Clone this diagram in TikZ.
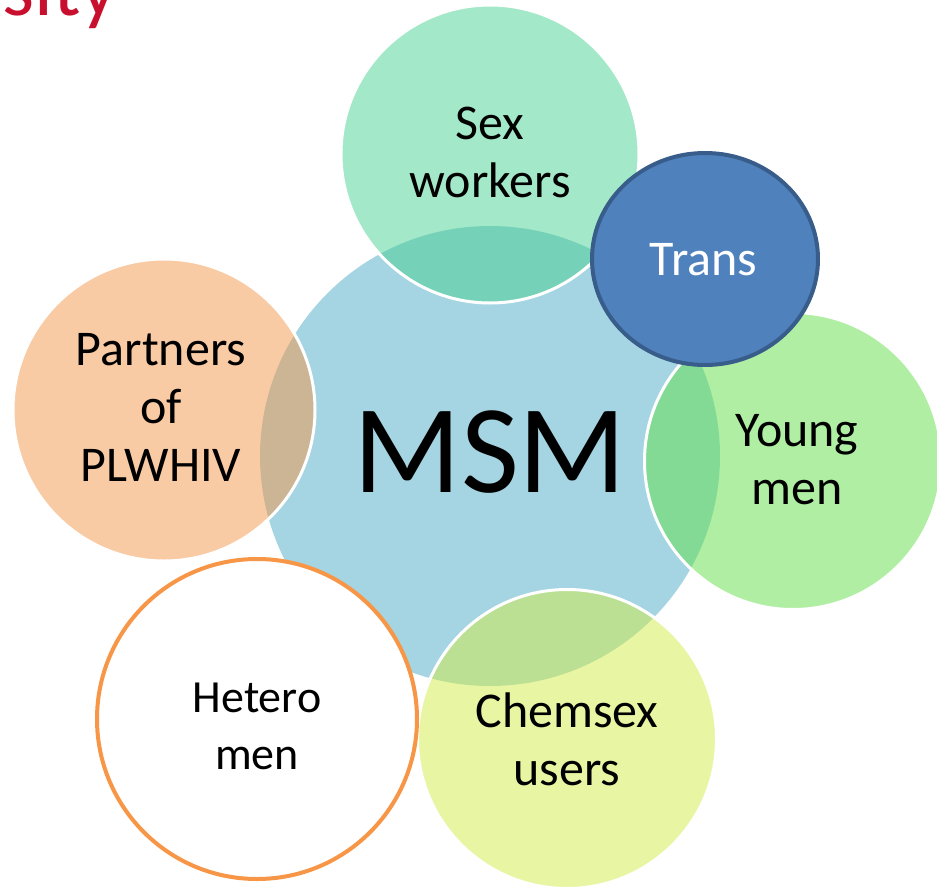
\documentclass[tikz,border=0pt]{standalone}
\usepackage{fontspec}
\setmainfont{Carlito}
\usetikzlibrary{shapes.geometric}
\definecolor{msmblue}{RGB}{165,213,226}
\definecolor{sexgreen}{RGB}{71,209,145}
\definecolor{partorange}{RGB}{243,151,73}
\definecolor{younggreen}{RGB}{97,223,71}
\definecolor{chemyellow}{RGB}{209,235,71}
\definecolor{hetorange}{RGB}{247,150,70}
\definecolor{transfill}{RGB}{79,129,189}
\definecolor{transline}{RGB}{56,93,138}
\definecolor{unired}{RGB}{200,16,46}
\begin{document}
\begin{tikzpicture}[x=1pt,y=-1pt,
  satcirc/.style={circle, draw=white, line width=3pt, fill=#1, fill opacity=0.5, inner sep=0pt},
  lbl/.style={inner sep=0pt, align=center, text=black, font=\fontsize{50}{58}\selectfont}]
\useasboundingbox (0,0) rectangle (937,894);
% header fragment
\node[anchor=base east, inner sep=0pt, text=unired, font=\fontsize{82}{90}\selectfont] (uni) at (118,15) {sity};
% central circle
\node[circle, fill=msmblue, inner sep=0pt, minimum size=460pt] (msm) at (490,456) {};
% satellites
\node[satcirc=partorange, minimum size=302pt] (part) at (164,410) {};
\node[satcirc=sexgreen, minimum size=298pt] (sex) at (490,154) {};
\node[satcirc=younggreen, minimum size=297pt] (young) at (793,461) {};
\node[satcirc=chemyellow, minimum size=299pt] (chem) at (567,739) {};
\node[circle, draw=hetorange, line width=4pt, fill=white, inner sep=0pt, minimum size=320pt] (het) at (257,719) {};
\node[ellipse, draw=transline, line width=4pt, fill=transfill, inner sep=0pt, minimum width=226pt, minimum height=212pt] (trans) at (705,259) {};
% labels
\node[inner sep=0pt, text=black, font=\fontsize{126}{130}\selectfont] (msmt) at (490,452.5) {MSM};
\node[lbl] (sext) at (490,152) {Sex\\workers};
\node[lbl, text=white] (transt) at (703.5,259.5) {Trans};
\node[lbl] (youngt) at (797,460) {Young\\men};
\node[lbl] (chemt) at (567,739) {Chemsex\\users};
\node[lbl, font=\fontsize{46}{57}\selectfont] (hett) at (257,726.5) {Hetero\\men};
\node[lbl] (partt) at (161,407.5) {Partners\\of\\PLWHIV};
\end{tikzpicture}
\end{document}
